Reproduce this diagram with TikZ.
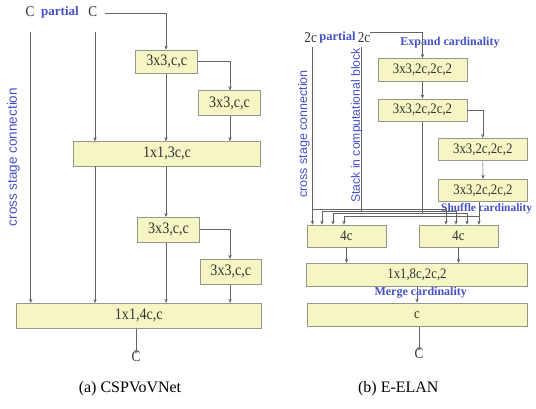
\documentclass[tikz,border=0pt]{standalone}
\usepackage{fontspec}
\setmainfont{Liberation Serif}
\newfontfamily\boxfnt[FakeStretch=0.88]{Liberation Serif}
\newfontfamily\sansfnt{Liberation Sans}
\usetikzlibrary{arrows.meta}
\definecolor{boxfill}{RGB}{246,246,196}
\definecolor{boxline}{RGB}{150,150,140}
\definecolor{lbl}{RGB}{68,80,196}
\definecolor{wire}{RGB}{100,100,100}
\definecolor{txt}{RGB}{50,50,50}
\tikzset{
  blk/.style={draw=boxline, fill=boxfill, line width=0.7pt, inner sep=0pt, text=txt, font=\boxfnt\fontsize{16}{18}\selectfont},
  blkb/.style={blk, font=\boxfnt\fontsize{14.5}{16}\selectfont},
  io/.style={inner sep=0pt, text=txt, font=\boxfnt\fontsize{15}{17}\selectfont},
  bluebf/.style={inner sep=0pt, text=lbl, font=\bfseries\fontsize{12}{14}\selectfont},
  bluesf/.style={inner sep=0pt, text=lbl, rotate=90, font=\sansfnt\fontsize{13}{15}\selectfont},
  wireline/.style={draw=wire, line width=0.6pt},
  arr/.style={wireline, -{Stealth[length=4pt,width=3.4pt]}},
  captxt/.style={inner sep=0pt, font=\fontsize{16}{18}\selectfont}
}
\begin{document}
\begin{tikzpicture}[x=1pt,y=-1pt]
\useasboundingbox (0,0) rectangle (536,409);
% ===== (a) CSPVoVNet =====
\node[io] (cA1) at (30,12) {C};
\node[bluebf, font=\bfseries\fontsize{13}{15}\selectfont] (pA) at (60,12) {partial};
\node[io] (cA2) at (92.7,12) {C};
\node[bluesf, font=\sansfnt\fontsize{13.5}{15}\selectfont] (csA) at (13.3,157) {cross stage connection};

\node[blk, minimum width=62pt, minimum height=23.3pt] (bA1) at (166.7,61.7) {3x3,c,c};
\node[blk, minimum width=61.6pt, minimum height=25pt] (bA2) at (229.5,103.2) {3x3,c,c};
\node[blk, minimum width=187.4pt, minimum height=24.3pt] (bA3) at (167,153.8) {1x1,3c,c};
\node[blk, minimum width=61.6pt, minimum height=25pt] (bA4) at (168.5,229.8) {3x3,c,c};
\node[blk, minimum width=61.6pt, minimum height=25pt] (bA5) at (230.8,271.7) {3x3,c,c};
\node[blk, minimum width=245.7pt, minimum height=25pt] (bA6) at (138.8,315.8) {1x1,4c,c};
\node[io] (cA3) at (136,357) {C};

\coordinate (sA) at (30.7,31.7);
\coordinate (qA) at (95,31.7);
\coordinate (tA) at (105,13.3);
\coordinate (colA) at (166,0);
\coordinate (colB) at (230,0);

\draw[arr] (sA) -- (sA |- bA6.north);
\draw[arr] (qA) -- (qA |- bA3.north);
\draw[arr] (qA |- bA3.south) -- (qA |- bA6.north);
\draw[arr] (tA) -| (bA1.north -| colA);
\draw[arr] (bA1.east) -| (bA2.north -| colB);
\draw[arr] (bA1.south -| colA) -- (bA3.north -| colA);
\draw[arr] (bA2.south -| colB) -- (bA3.north -| colB);
\draw[arr] (bA3.south -| colA) -- (bA4.north -| colA);
\draw[arr] (bA4.east) -| (bA5.north -| colB);
\draw[arr] (bA4.south -| colA) -- (bA6.north -| colA);
\draw[arr] (bA5.south -| colB) -- (bA6.north -| colB);
\draw[arr] (bA6.south -| cA3) -- ([yshift=-2pt]cA3.north);

% ===== (b) E-ELAN =====
\node[io] (cB1) at (310.7,37.7) {2c};
\node[bluebf, font=\bfseries\fontsize{12.5}{14}\selectfont] (pB) at (337.5,37.7) {partial};
\node[io] (cB2) at (364,37.7) {2c};
\node[bluebf] (expB) at (450,42.3) {Expand cardinality};
\node[bluesf, font=\sansfnt\fontsize{12.5}{14}\selectfont] (csB) at (304,134) {cross stage connection};
\node[bluesf, font=\sansfnt\fontsize{12.2}{14}\selectfont] (stB) at (356.7,125.5) {Stack in computational block};

\node[blkb, minimum width=89pt, minimum height=22.7pt] (bB1) at (422.5,69.7) {3x3,2c,2c,2};
\node[blkb, minimum width=89pt, minimum height=22.7pt] (bB2) at (422.5,110.3) {3x3,2c,2c,2};
\node[blkb, minimum width=89pt, minimum height=22.4pt] (bB3) at (482.8,149.5) {3x3,2c,2c,2};
\node[blkb, minimum width=89pt, minimum height=22.4pt] (bB4) at (483,190.5) {3x3,2c,2c,2};
\node[blkb, minimum width=79pt, minimum height=22pt] (bB5) at (346.5,236) {4c};
\node[blkb, minimum width=79pt, minimum height=22pt] (bB6) at (458.5,236) {4c};
\node[blkb, minimum width=220.6pt, minimum height=22.7pt] (bB7) at (417,274.7) {1x1,8c,2c,2};
\node[blkb, minimum width=220pt, minimum height=23.7pt] (bB8) at (417,314.8) {c};
\node[io] (cB3) at (419,354) {C};

\coordinate (sB) at (312.5,46.7);
\coordinate (kB) at (361,46.7);
\coordinate (tB) at (370,32.7);
\coordinate (h1) at (0,209.3);
\coordinate (h2) at (0,211.2);
\coordinate (h3) at (0,213.6);
\coordinate (h4) at (0,216);
\coordinate (L2) at (322,0);
\coordinate (L3) at (333,0);
\coordinate (L4) at (344,0);
\coordinate (R1) at (446,0);
\coordinate (R2) at (456,0);
\coordinate (R3) at (467,0);
\coordinate (R4) at (479,0);

\draw[arr] (tB) -| (bB1.north);
\draw[arr] (bB1.south) -- (bB2.north);
\draw[arr] (bB2.east) -| (bB3.north);
\draw[arr] (bB3.south) -- (bB4.north);

% cross stage
\draw[arr] (sB) -- (sB |- bB5.north);
\draw[arr] (sB |- h1) -| (R1 |- bB6.north);
% stack
\draw[wireline] (kB) -- (kB |- h2);
\draw[arr] (kB |- h2) -| (L2 |- bB5.north);
\draw[arr] (kB |- h2) -| (R2 |- bB6.north);
% second block output
\draw[wireline] (bB2.south) -- (bB2.south |- h3);
\draw[arr] (bB2.south |- h3) -| (L3 |- bB5.north);
\draw[arr] (bB2.south |- h3) -| (R3 |- bB6.north);
% fourth block output
\draw[arr] (bB4.south -| R4) -- (R4 |- bB6.north);
\draw[arr] (R4 |- h4) -| (L4 |- bB5.north);

\node[bluebf, anchor=west, font=\bfseries\fontsize{11.4}{13}\selectfont] (shB) at (441,208.3) {Shuffle cardinality};

\draw[arr] (bB5.south) -- (bB5.south |- bB7.north);
\draw[arr] (bB6.south) -- (bB6.south |- bB7.north);
\draw[arr] (bB7.south) -- (bB8.north);
\node[bluebf] (mgB) at (420.7,292.7) {Merge cardinality};
\draw[arr] (bB8.south -| cB3) -- ([yshift=-2pt]cB3.north);

% captions
\node[captxt] (capA) at (130,389) {(a) CSPVoVNet};
\node[captxt] (capB) at (398.3,389) {(b) E-ELAN};
\end{tikzpicture}
\end{document}
